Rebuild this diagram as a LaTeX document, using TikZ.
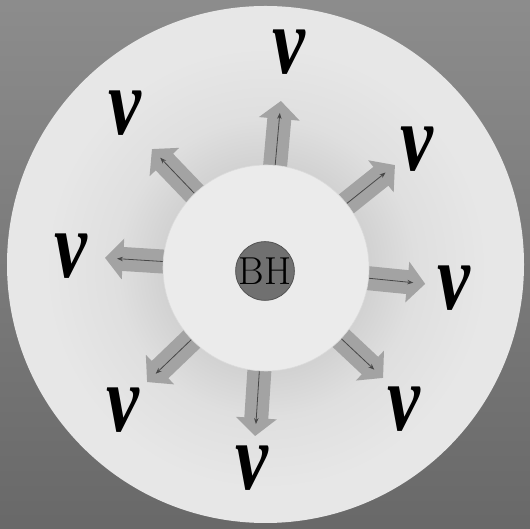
\documentclass[tikz,border=0pt]{standalone}
\usepackage{fontspec}
\newfontfamily\vfont{Liberation Serif}
\usetikzlibrary{arrows.meta,calc}
\pgfdeclareradialshading{halo}{\pgfpoint{0bp}{0bp}}{color(0bp)=(black!19); color(11.5bp)=(black!18); color(17bp)=(black!12.5); color(25bp)=(black!9.5); color(50bp)=(black!9.5)}
\newcommand{\vglyph}{\scalebox{0.78}[1]{v}}
\begin{document}
\begin{tikzpicture}[x=1pt,y=1pt,
  bigarrow/.style={draw=black!36, line width=24pt, -{Triangle[width=40pt,length=18pt]}},
  thinarrow/.style={draw=black!72, line width=0.8pt, -{Stealth[length=6pt,width=4.5pt]}},
  vlabel/.style={inner sep=0pt, font=\vfont\bfseries\itshape\fontsize{95}{95}\selectfont},
  ring/.style={circle, inner sep=0pt}]
\useasboundingbox (0,0) rectangle (530,529);
\shade[top color=black!45, bottom color=black!59] (0,0) rectangle (530,529);
\coordinate (O) at (265.5,264.5);
\coordinate (C) at (266,261);
\fill[black!9.5] (O) circle (258.5);
\shade[shading=halo] (C) circle (220);
\foreach \a/\r [count=\i] in {84.9/167.7, 38.6/165, -5.7/160, -43.2/160.6, -93.7/168.4, -136.2/164.8, 176.4/161.3, 133.8/164.8}{
  \coordinate (s\i) at ($(C)+(\a:96)$);
  \coordinate (t\i) at ($(C)+(\a:\r)$);
  \coordinate (ss\i) at ($(C)+(\a:100)$);
  \coordinate (tt\i) at ($(C)+(\a:\r-12)$);
  \draw[bigarrow] (s\i) -- (t\i);
  \draw[thinarrow] (ss\i) -- (tt\i);
}
\node[ring, minimum size=206pt, fill=black!8, draw=black!14, line width=0.6pt] (inner) at (C) {};
\node[ring, minimum size=57pt, fill=black!56, draw=black!68, line width=0.8pt, font=\fontsize{39}{39}\selectfont] (bh) at (265,258) {BH};
\node[vlabel] (v1) at (289,477) {\vglyph};
\node[vlabel] (v2) at (417,380) {\vglyph};
\node[vlabel] (v3) at (454,241) {\vglyph};
\node[vlabel] (v4) at (404,120) {\vglyph};
\node[vlabel] (v5) at (252,61) {\vglyph};
\node[vlabel] (v6) at (123,119) {\vglyph};
\node[vlabel] (v7) at (71,273) {\vglyph};
\node[vlabel] (v8) at (125,416) {\vglyph};
\end{tikzpicture}
\end{document}
